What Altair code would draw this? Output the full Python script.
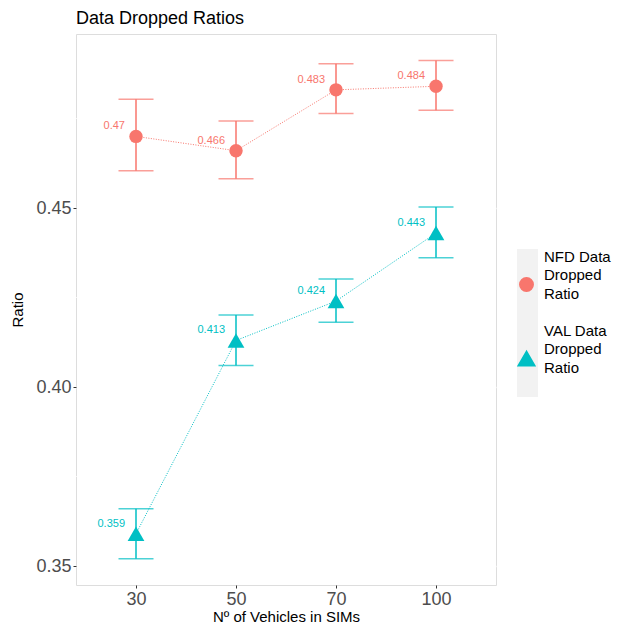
import altair as alt
import pandas as pd

vehicles = ["30", "50", "70", "100"]
series_names = ["NFD Data\nDropped\nRatio", "VAL Data\nDropped\nRatio"]
series_colors = ["#F8766D", "#00BFC4"]
series_shapes = ["circle", "triangle-up"]
series_sizes = [180, 280]

nfd_ratio = [0.470, 0.466, 0.483, 0.484]
nfd_low = [0.4604, 0.4582, 0.4764, 0.4773]
nfd_high = [0.4804, 0.4743, 0.4903, 0.4912]

val_ratio = [0.359, 0.413, 0.424, 0.443]
val_low = [0.3520, 0.4060, 0.4181, 0.4361]
val_high = [0.3660, 0.4201, 0.4302, 0.4503]

y_ticks = [0.35, 0.40, 0.45]
y_minor = [0.375, 0.425, 0.475]
y_domain = [0.3447, 0.4986]

rows = []
for name, r, lo, hi in [
    (series_names[0], nfd_ratio, nfd_low, nfd_high),
    (series_names[1], val_ratio, val_low, val_high),
]:
    for i, v in enumerate(vehicles):
        rows.append({"veh": v, "series": name, "ratio": r[i], "lo": lo[i], "hi": hi[i],
                     "label": f"{r[i]:g}"})
df = pd.DataFrame(rows)
minor_df = pd.DataFrame({"v": y_minor})

FONT = "Liberation Sans"

yscale = alt.Scale(domain=y_domain, nice=False, zero=False)
xenc = alt.X("veh:O", sort=vehicles, scale=alt.Scale(type="point", padding=0.6),
             title="Nº of Vehicles in SIMs",
             axis=alt.Axis(labelAngle=0, labelFontSize=18, labelColor="#4D4D4D", labelFont=FONT,
                           tickColor="#333333", tickSize=3, tickWidth=1, labelPadding=2,
                           titleFontSize=15, titleFont=FONT, titleFontWeight="normal",
                           titleColor="black", titlePadding=1, domain=False,
                           gridColor="white", gridWidth=1.4))
color_enc = alt.Color("series:N", scale=alt.Scale(domain=series_names, range=series_colors),
                      title=None,
                      legend=alt.Legend(orient="none", legendX=441, legendY=243,
                                        labelExpr="reverse(split(datum.label, '\\n'))",
                                        labelBaseline="line-bottom",
                                        labelFontSize=15, labelFont=FONT, labelColor="black",
                                        symbolSize=170, symbolOpacity=1, labelOffset=8,
                                        rowPadding=43, padding=0))
shape_enc = alt.Shape("series:N", scale=alt.Scale(domain=series_names, range=series_shapes),
                      title=None)

base = alt.Chart(df)

minor = alt.Chart(minor_df).mark_rule(color="white", strokeWidth=0.7).encode(
    y=alt.Y("v:Q", scale=yscale, title="Ratio",
            axis=alt.Axis(values=y_ticks, format=".2f", labelFontSize=18, labelColor="#4D4D4D",
                          labelFont=FONT, tickColor="#333333", tickSize=3, labelPadding=2,
                          titleFontSize=15, titleFont=FONT, titleFontWeight="normal",
                          titleColor="black", titlePadding=10, domain=False,
                          gridColor="white", gridWidth=1.4))
)

keybg = alt.Chart(pd.DataFrame({"k": [0]})).mark_rect(color="#F2F2F2").encode(
    x=alt.value(441), x2=alt.value(462), y=alt.value(215), y2=alt.value(363)
)

line = base.mark_line(strokeDash=[1, 1.5], strokeWidth=1).encode(
    x=xenc, y=alt.Y("ratio:Q", scale=yscale), color=color_enc, detail="series:N"
)
err = base.mark_rule(strokeWidth=1.5).encode(
    x=xenc, y=alt.Y("lo:Q", scale=yscale), y2="hi:Q", color=color_enc
)
cap_lo = base.mark_tick(size=35, thickness=1.5).encode(
    x=xenc, y=alt.Y("lo:Q", scale=yscale), color=color_enc
)
cap_hi = base.mark_tick(size=35, thickness=1.5).encode(
    x=xenc, y=alt.Y("hi:Q", scale=yscale), color=color_enc
)
pts = base.mark_point(filled=True, opacity=1).encode(
    x=xenc, y=alt.Y("ratio:Q", scale=yscale), color=color_enc, shape=shape_enc,
    size=alt.Size("series:N", scale=alt.Scale(domain=series_names, range=series_sizes), legend=None)
)
labels = base.mark_text(align="right", baseline="middle", dx=-11, dy=-10, fontSize=11,
                        font=FONT).encode(
    x=xenc, y=alt.Y("ratio:Q", scale=yscale), text="label:N", color=color_enc
)

chart = alt.layer(minor, keybg, line, err, cap_lo, cap_hi, pts, labels).properties(
    width=420, height=551,
    title=alt.TitleParams("Data Dropped Ratios", anchor="start", frame="group", fontSize=18,
                          font=FONT, fontWeight="normal", color="black", offset=6),
    autosize=alt.AutoSizeParams(type="none"),
    padding={"left": 68, "top": 26, "right": 121, "bottom": 39},
).configure_view(fill="#EBEBEB", strokeWidth=0).configure(
    background="white", style={"guide-label": {"lineHeight": -18.5}}
)

chart.save("out.html", embed_options={"renderer": "svg", "actions": False})
